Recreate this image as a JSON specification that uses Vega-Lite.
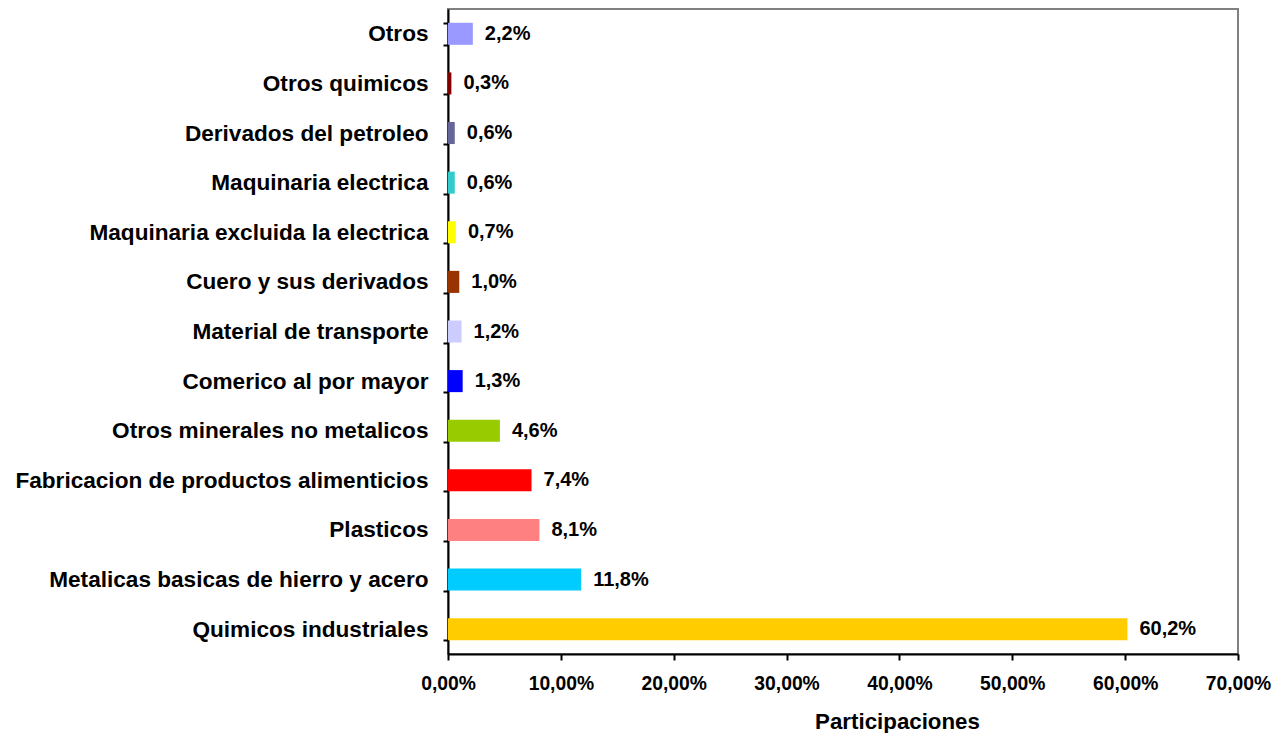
{
  "$schema": "https://vega.github.io/schema/vega-lite/v6.json",
  "width": 790,
  "height": 645,
  "autosize": {"type": "none"},
  "padding": {"left": 448, "top": 9, "right": 39, "bottom": 79},
  "background": "white",
  "config": {
    "locale": {"number": {"decimal": ",", "thousands": ".", "grouping": [3], "currency": ["", " €"]}},
    "font": "Liberation Sans",
    "view": {"stroke": "#808080", "strokeWidth": 2}
  },
  "data": {
    "values": [
      {"sector": "Otros", "valor": 0.022, "color": "#9999FF"},
      {"sector": "Otros quimicos", "valor": 0.003, "color": "#800000"},
      {"sector": "Derivados del petroleo", "valor": 0.006, "color": "#666699"},
      {"sector": "Maquinaria electrica", "valor": 0.006, "color": "#33CCCC"},
      {"sector": "Maquinaria excluida la electrica", "valor": 0.007, "color": "#FFFF00"},
      {"sector": "Cuero y sus derivados", "valor": 0.010, "color": "#993300"},
      {"sector": "Material de transporte", "valor": 0.012, "color": "#CCCCFF"},
      {"sector": "Comerico al por mayor", "valor": 0.013, "color": "#0000FF"},
      {"sector": "Otros minerales no metalicos", "valor": 0.046, "color": "#99CC00"},
      {"sector": "Fabricacion de productos alimenticios", "valor": 0.074, "color": "#FF0000"},
      {"sector": "Plasticos", "valor": 0.081, "color": "#FF8080"},
      {"sector": "Metalicas basicas de hierro y acero", "valor": 0.118, "color": "#00CCFF"},
      {"sector": "Quimicos industriales", "valor": 0.602, "color": "#FFCC00"}
    ]
  },
  "encoding": {
    "y": {
      "field": "sector",
      "type": "nominal",
      "sort": null,
      "scale": {"paddingInner": 0.556, "paddingOuter": 0.278},
      "axis": {
        "title": null,
        "tickBand": "extent",
        "domainColor": "black",
        "domainWidth": 2,
        "tickColor": "black",
        "tickWidth": 2,
        "tickSize": 5,
        "labelPadding": 15,
        "labelFont": "Liberation Sans",
        "labelFontWeight": "bold",
        "labelFontSize": 22.6,
        "labelColor": "black",
        "labelLimit": 600
      }
    },
    "x": {
      "field": "valor",
      "type": "quantitative",
      "scale": {"domain": [0, 0.7], "nice": false},
      "axis": {
        "format": ".2%",
        "values": [0, 0.1, 0.2, 0.3, 0.4, 0.5, 0.6, 0.7],
        "grid": false,
        "domainColor": "black",
        "domainWidth": 2,
        "tickColor": "black",
        "tickWidth": 2,
        "tickSize": 6,
        "labelPadding": 14,
        "labelFont": "Liberation Sans",
        "labelFontWeight": "bold",
        "labelFontSize": 19.3,
        "labelColor": "black",
        "labelFlush": false,
        "title": "Participaciones",
        "titleFont": "Liberation Sans",
        "titleFontWeight": "bold",
        "titleFontSize": 22.3,
        "titleColor": "black",
        "titleX": 449,
        "titleY": 56,
        "titleAlign": "center",
        "titleBaseline": "top",
        "titleAnchor": null
      }
    }
  },
  "layer": [
    {
      "mark": {"type": "bar"},
      "encoding": {
        "color": {"field": "color", "type": "nominal", "scale": null, "legend": null}
      }
    },
    {
      "mark": {"type": "text", "align": "left", "baseline": "middle", "dx": 12, "fontWeight": "bold", "fontSize": 20, "font": "Liberation Sans", "color": "black"},
      "encoding": {
        "text": {"field": "valor", "type": "quantitative", "format": ".1%"}
      }
    }
  ]
}
